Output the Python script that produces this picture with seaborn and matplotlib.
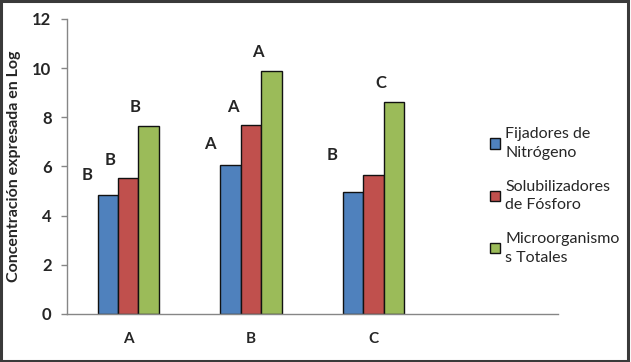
import matplotlib
matplotlib.use("Agg")
import matplotlib.pyplot as plt
import seaborn as sns
import pandas as pd
from matplotlib.patches import Rectangle

categories = ["A", "B", "C"]
series = ["Fijadores de\nNitrógeno", "Solubilizadores\nde Fósforo", "Microorganismo\ns Totales"]
fijadores = [4.82, 6.07, 4.95]
solubilizadores = [5.52, 7.68, 5.65]
microorganismos = [7.63, 9.88, 8.62]
# significance letters per series (None = no letter)
letters_fij = ["B", "A", "B"]
letters_sol = ["B", "A", None]
letters_mic = ["B", "A", "C"]
y_ticks = [0, 2, 4, 6, 8, 10, 12]
y_label = "Concentración expresada en Log"

colors = ["#4F81BD", "#C0504D", "#9BBB59"]

rows = []
for s, vals in zip(series, [fijadores, solubilizadores, microorganismos]):
    for c, v in zip(categories, vals):
        rows.append({"cat": c, "serie": s, "val": v})
df = pd.DataFrame(rows)

sns.set_style("white")
plt.rcParams["font.family"] = ["Lato", "DejaVu Sans"]

fig = plt.figure(figsize=(6.31, 3.62), dpi=100)
ax = fig.add_axes([0.106, 0.1326, 0.778, 0.815])

sns.barplot(data=df, x="cat", y="val", hue="serie", order=categories,
            hue_order=series, palette=colors, width=0.5, gap=0,
            edgecolor="#111111", linewidth=1.0, saturation=1, ax=ax,
            errorbar=None)

ax.set_xlim(-0.5, 3.5)
ax.set_ylim(0, 12)
ax.set_yticks(y_ticks)
ax.set_yticklabels([str(t) for t in y_ticks], fontsize=12, fontweight="bold")
ax.set_xticks(range(len(categories)))
ax.set_xticklabels(categories, fontsize=11, fontweight="bold")
ax.tick_params(axis="x", length=0, pad=13)
ax.tick_params(axis="y", length=4, width=1, color="#868686", direction="out", left=True, pad=7)
ax.set_xlabel("")
ax.set_ylabel(y_label, fontsize=11.5, fontweight="bold", labelpad=8)
for side in ["top", "right"]:
    ax.spines[side].set_visible(False)
for side in ["left", "bottom"]:
    ax.spines[side].set_color("#868686")
    ax.spines[side].set_linewidth(1)

# letters
dx = [-0.17, -0.15, -0.11]
dy = [0.85, 0.75, 0.78]
letter_sets = [letters_fij, letters_sol, letters_mic]
extra = {(0, 2): 0.65}
for i, cont in enumerate(ax.containers):
    for j, bar in enumerate(cont):
        lt = letter_sets[i][j]
        if lt is None:
            continue
        xc = bar.get_x() + bar.get_width() / 2
        y = bar.get_height() + dy[i] + extra.get((i, j), 0)
        ax.text(xc + dx[i], y, lt, ha="center", va="center",
                fontsize=12, fontweight="bold")

# legend
handles, labels = ax.get_legend_handles_labels()
leg = ax.legend(handles, labels, loc="center left", bbox_to_anchor=(0.849, 0.40),
                frameon=False, fontsize=11.5, labelspacing=1.2,
                handlelength=0.65, handleheight=0.65, handletextpad=0.3,
                borderaxespad=0)
for t in leg.get_texts():
    t.set_linespacing(1.45)
for h in leg.legend_handles:
    h.set_edgecolor("#111111")

# figure border
fig.patches.append(Rectangle((0.002, 0.004), 0.993, 0.992, transform=fig.transFigure,
                             fill=False, edgecolor="#3a3a3a", linewidth=2.2))

fig.savefig("out.png", dpi=100, facecolor="white")
